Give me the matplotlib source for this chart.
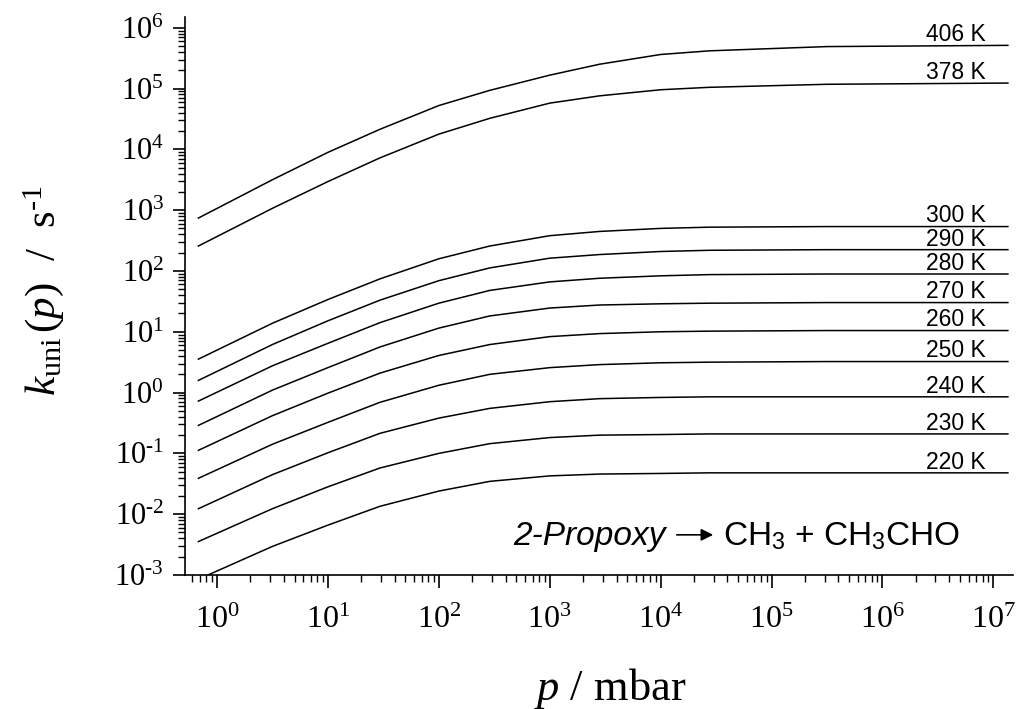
import numpy as np
import matplotlib
matplotlib.use("Agg")
import matplotlib.pyplot as plt
from matplotlib.ticker import LogLocator, NullFormatter, FuncFormatter

plt.rcParams['mathtext.fontset'] = 'custom'
plt.rcParams['mathtext.rm'] = 'Liberation Serif'
plt.rcParams['mathtext.it'] = 'Liberation Serif:italic'
plt.rcParams['mathtext.sf'] = 'Liberation Sans'
plt.rcParams['font.family'] = 'Liberation Serif'

# pressure grid (mbar)
pressure = [0.68, 3.16, 10, 29.5, 100, 288, 1000, 2820, 1e4, 2.75e4, 3.16e5, 1.35e7]

# log10 of k_uni (s^-1) at each pressure, per temperature
temps = ['406 K', '378 K', '300 K', '290 K', '280 K', '270 K',
         '260 K', '250 K', '240 K', '230 K', '220 K']
log_k406 = [2.87, 3.50, 3.95, 4.33, 4.72, 4.97, 5.22, 5.40, 5.56, 5.62, 5.69, 5.71]
log_k378 = [2.41, 3.03, 3.47, 3.86, 4.25, 4.51, 4.76, 4.88, 4.98, 5.02, 5.07, 5.09]
log_k300 = [0.55, 1.14, 1.53, 1.87, 2.20, 2.41, 2.58, 2.65, 2.70, 2.72, 2.73, 2.73]
log_k290 = [0.20, 0.79, 1.18, 1.52, 1.84, 2.05, 2.21, 2.27, 2.32, 2.34, 2.35, 2.35]
log_k280 = [-0.14, 0.44, 0.81, 1.15, 1.47, 1.68, 1.82, 1.88, 1.92, 1.94, 1.95, 1.95]
log_k270 = [-0.54, 0.04, 0.41, 0.75, 1.06, 1.26, 1.39, 1.44, 1.46, 1.47, 1.48, 1.48]
log_k260 = [-0.95, -0.38, -0.01, 0.32, 0.61, 0.79, 0.92, 0.97, 1.00, 1.01, 1.02, 1.02]
log_k250 = [-1.41, -0.85, -0.49, -0.16, 0.12, 0.30, 0.41, 0.46, 0.49, 0.50, 0.51, 0.51]
log_k240 = [-1.91, -1.35, -0.99, -0.67, -0.42, -0.26, -0.15, -0.10, -0.08, -0.07, -0.07, -0.07]
log_k230 = [-2.45, -1.91, -1.55, -1.24, -1.00, -0.84, -0.74, -0.70, -0.69, -0.68, -0.68, -0.68]
log_k220 = [-3.07, -2.53, -2.18, -1.87, -1.62, -1.46, -1.37, -1.34, -1.33, -1.32, -1.32, -1.32]

series = [log_k406, log_k378, log_k300, log_k290, log_k280, log_k270,
          log_k260, log_k250, log_k240, log_k230, log_k220]

x_decades = [1e0, 1e1, 1e2, 1e3, 1e4, 1e5, 1e6, 1e7]
y_decades = [1e-3, 1e-2, 1e-1, 1e0, 1e1, 1e2, 1e3, 1e4, 1e5, 1e6]


def pow_label(v, pos):
    e = int(round(np.log10(v)))
    if e < 0:
        return r'$\mathregular{10^{\text{-}%d}}$' % (-e)
    return r'$\mathregular{10^{%d}}$' % e


fig = plt.figure(figsize=(10.16, 7.09), dpi=100)
ax = fig.add_axes([0.182, 0.189, 0.815, 0.787])

p = np.array(pressure)
for lab, lk in zip(temps, series):
    k = 10 ** np.array(lk)
    ax.plot(p, k, color='black', lw=1.1)
    ax.annotate(lab, xy=(8.5e6, k[-1]), xytext=(0, 3), textcoords='offset points',
                ha='right', va='baseline', fontsize=16.5, family='Liberation Sans')

ax.set_xscale('log')
ax.set_yscale('log')
ax.set_xlim(0.514, 1.5e7)
ax.set_ylim(1e-3, 1.5e6)

for s in ['top', 'right']:
    ax.spines[s].set_visible(False)
for s in ['left', 'bottom']:
    ax.spines[s].set_linewidth(1.2)

ax.set_xticks(x_decades)
ax.set_yticks(y_decades)
for axis in [ax.xaxis, ax.yaxis]:
    axis.set_minor_locator(LogLocator(base=10, subs=np.arange(2, 10), numticks=20))
    axis.set_major_formatter(FuncFormatter(pow_label))
    axis.set_minor_formatter(NullFormatter())
ax.set_xlim(0.514, 1.5e7)
ax.set_ylim(1e-3, 1.5e6)
ax.tick_params(which='major', direction='out', length=9, width=1.2)
ax.tick_params(which='minor', direction='out', length=5, width=1.0)
ax.tick_params(axis='y', which='major', labelsize=22, pad=6)
ax.tick_params(axis='x', which='major', labelsize=23, pad=13)

ax.set_xlabel('$p$ / mbar', fontsize=32)
ax.xaxis.set_label_coords(0.514, -0.163)
ax.set_ylabel(r'$k_{\rm uni}\,(p)$  /  s$^{\text{-}1}$', fontsize=31)
ax.yaxis.set_label_coords(-0.144, 0.51)

ax.text(0.396, 0.053, '2-Propoxy', transform=ax.transAxes, fontsize=24,
        family='Liberation Sans', style='italic', ha='left', va='baseline')
ax.annotate('', xy=(0.638, 0.072), xytext=(0.594, 0.072),
            xycoords='axes fraction',
            arrowprops=dict(arrowstyle='-|>', color='black', lw=1.2,
                            mutation_scale=18, shrinkA=0, shrinkB=0))
ax.text(0.65, 0.053, r'CH$_\mathsf{3}$ + CH$_\mathsf{3}$CHO', transform=ax.transAxes,
        fontsize=24, family='Liberation Sans', ha='left', va='baseline')

fig.savefig('out.png', dpi=100)
